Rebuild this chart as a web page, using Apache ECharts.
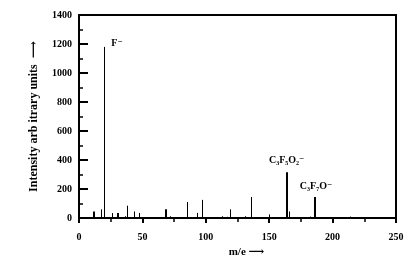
<!DOCTYPE html>
<html>
<head>
<meta charset="utf-8">
<script src="https://cdn.jsdelivr.net/npm/echarts@6/dist/echarts.min.js"></script>
<style>
html,body{margin:0;padding:0;background:#fff;}
#chart{width:410px;height:270px;}
</style>
</head>
<body>
<div id="chart"></div>
<script>
// ---- data ----
const massToCharge = [12, 17, 20, 26, 31, 36, 38, 43, 47, 69, 72, 85, 93, 97, 113, 117, 119, 131, 136, 150, 164, 166, 182, 186, 214];
const intensity    = [45, 60, 1180, 34, 34, 12, 85, 45, 35, 60, 12, 110, 35, 125, 12, 8, 60, 12, 145, 25, 315, 45, 10, 145, 10];
const labelMz      = [20, 164, 186];
const labelText    = ['F⁻', 'C₃F₅O₂⁻', 'C₃F₇O⁻'];
const xTicks       = [0, 50, 100, 150, 200, 250];
const yTicks       = [0, 200, 400, 600, 800, 1000, 1200, 1400];

// ---- styles ----
const SERIF = '"Liberation Serif","DejaVu Serif",serif';
const thickPeaks = [12, 31, 69, 164, 186];
const labelOffsets = {20: [7, -3], 164: [-18, -12], 186: [-15, -11]};

const peakData = massToCharge.map((m, i) => [m, intensity[i]]);
const labelData = labelMz.map((m, i) => [m, intensity[massToCharge.indexOf(m)], labelText[i]]);

const chart = echarts.init(document.getElementById('chart'), null, {renderer: 'canvas'});
chart.setOption({
  animation: false,
  backgroundColor: '#fff',
  grid: {left: 79, right: 14, top: 15, bottom: 52, show: true, borderColor: '#000', borderWidth: 2, backgroundColor: 'transparent'},
  xAxis: {
    type: 'value', min: xTicks[0], max: xTicks[xTicks.length - 1], interval: 50,
    name: 'm/e ⟶', nameLocation: 'middle', nameGap: 27,
    nameTextStyle: {fontFamily: SERIF, fontWeight: 'bold', fontSize: 11, color: '#000', padding: [0, 0, 0, 18]},
    axisLine: {show: true, lineStyle: {color: '#000', width: 2}},
    axisTick: {show: true, inside: false, length: 5, lineStyle: {color: '#000', width: 2}},
    minorTick: {show: true, splitNumber: 2, length: 4, lineStyle: {color: '#000', width: 1.5}},
    axisLabel: {margin: 14, fontFamily: SERIF, fontWeight: 'bold', fontSize: 10, color: '#000',
      formatter: v => xTicks.includes(v) ? String(v) : ''},
    splitLine: {show: false}
  },
  yAxis: {
    type: 'value', min: yTicks[0], max: yTicks[yTicks.length - 1], interval: 200,
    name: 'Intensity arb itrary units  ⟶', nameLocation: 'middle', nameGap: 39,
    nameTextStyle: {fontFamily: SERIF, fontWeight: 'bold', fontSize: 12, color: '#000'},
    axisLine: {show: true, lineStyle: {color: '#000', width: 2}},
    axisTick: {show: true, inside: true, length: 9, lineStyle: {color: '#000', width: 2}},
    minorTick: {show: true, splitNumber: 2, length: 4, lineStyle: {color: '#000', width: 1.5}},
    axisLabel: {margin: 7, fontFamily: SERIF, fontWeight: 'bold', fontSize: 10, color: '#000',
      formatter: v => yTicks.includes(v) ? String(v) : ''},
    splitLine: {show: false}
  },
  series: [
    {
      type: 'custom',
      data: peakData,
      renderItem: function (params, api) {
        const x = api.value(0), y = api.value(1);
        const p0 = api.coord([x, 0]);
        const p1 = api.coord([x, y]);
        const w = thickPeaks.includes(x) ? 2 : 1;
        const px = Math.round(p0[0]) + (w % 2 ? 0.5 : 0);
        return {type: 'line', shape: {x1: px, y1: p0[1], x2: px, y2: p1[1]},
          style: {stroke: '#000', lineWidth: w}};
      }
    },
    {
      type: 'custom',
      data: labelData,
      renderItem: function (params, api) {
        const x = api.value(0), y = api.value(1);
        const p = api.coord([x, y]);
        const off = labelOffsets[x] || [0, 0];
        return {type: 'text', x: p[0] + off[0], y: p[1] + off[1],
          style: {text: labelData[params.dataIndex][2], font: 'bold 10px ' + SERIF,
            fill: '#000', textAlign: 'left', textVerticalAlign: 'middle'}};
      }
    }
  ]
});
</script>
</body>
</html>
